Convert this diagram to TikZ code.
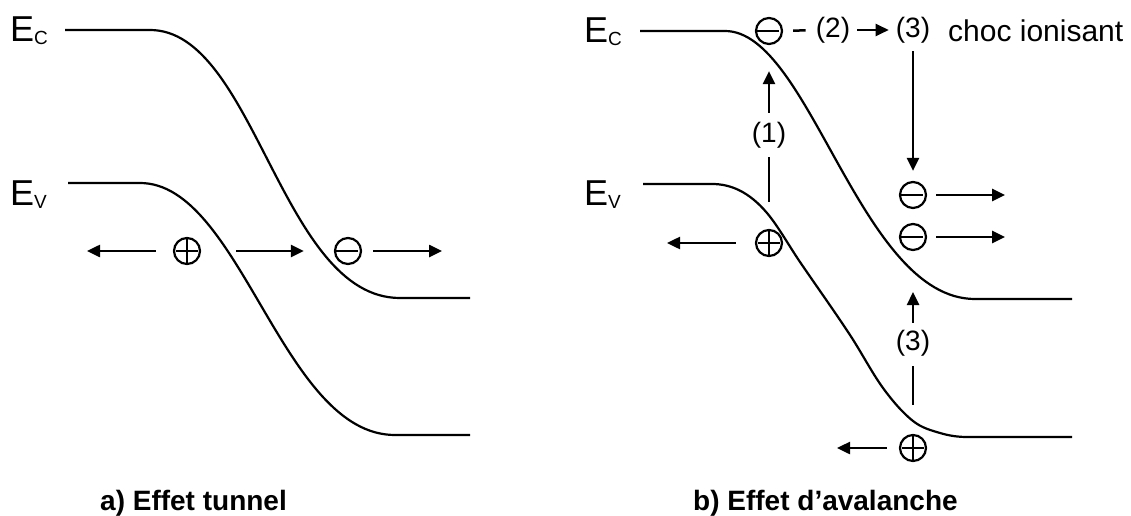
\documentclass[tikz,border=0pt]{standalone}
\usepackage{fontspec}
\setmainfont{Liberation Sans}
\usetikzlibrary{arrows.meta}
\tikzset{
  band/.style={line width=2.2pt, line join=round},
  seg/.style={line width=2.5pt},
  arr/.style={line width=2.5pt, -{Triangle[length=13pt,width=12pt]}},
  carrier/.style={circle, draw, line width=2.2pt, minimum size=26pt, inner sep=0pt},
  pluscar/.style={carrier, path picture={\draw[line width=1.8pt]
      (path picture bounding box.north) -- (path picture bounding box.south)
      ([xshift=-11pt]path picture bounding box.center) -- ([xshift=11pt]path picture bounding box.center);}},
  minuscar/.style={carrier, path picture={\draw[line width=2pt]
      ([xshift=-13pt]path picture bounding box.center) -- ([xshift=10pt]path picture bounding box.center);}},
  lab/.style={inner sep=0pt, font=\fontsize{28}{28}\selectfont},
  elab/.style={inner sep=0pt, anchor=base west, font=\fontsize{36}{36}\selectfont},
  captxt/.style={inner sep=0pt, anchor=base west, font=\fontsize{28}{28}\selectfont\bfseries},
}
\newcommand{\subC}[1]{{\fontsize{19}{19}\selectfont\raisebox{-3pt}{#1}}}
\begin{document}
\begin{tikzpicture}[x=1pt,y=-1pt]
\useasboundingbox (0,0) rectangle (1131,516);

% ---------- a) Effet tunnel ----------
\node[elab] (ecA) at (10,42) {E\subC{C}};
\node[elab] (evA) at (10,205) {E\subC{V}};
\draw[band] (65,30) -- (150,30) .. controls (255,30) and (281,298) .. (400,298) -- (470,298);
\draw[band] (68,183) -- (140,183) .. controls (241,183) and (282,435) .. (395,435) -- (470,435);

\node[pluscar] (pA) at (187,251) {};
\node[minuscar] (nA) at (348,251) {};
\coordinate (tA1) at (87,251);
\coordinate (tA2) at (442,251);
\draw[arr, shorten <=17pt] (pA.west) -- (tA1);
\draw[arr, shorten <=35pt, shorten >=30pt] (pA.east) -- (nA.west);
\draw[arr, shorten <=11pt] (nA.east) -- (tA2);

\node[captxt] (capA) at (100,510) {a) Effet tunnel};

% ---------- b) Effet d'avalanche ----------
\node[elab] (ecB) at (584,43) {E\subC{C}};
\node[elab] (evB) at (584,205) {E\subC{V}};
\draw[band] (640,31) -- (725,31) .. controls (810,31) and (860,299) .. (975,299) -- (1072,299);
\draw[band] (643,184) -- (712,184)
  .. controls (730.3,184) and (748.7,191.4) .. (767,213)
  .. controls (778,226) and (789,245.8) .. (800,262)
  .. controls (816.7,286.5) and (833.3,309.6) .. (850,335)
  .. controls (861,351.7) and (872,372.9) .. (883,388)
  .. controls (893,401.7) and (903,413.1) .. (913,421)
  .. controls (922,428.1) and (931,430.3) .. (940,433)
  .. controls (949,435.7) and (958,437) .. (967,437) -- (1072,437);

\node[minuscar] (nT) at (769,31) {};
\node[lab] (l2) at (833,30) {(2)};
\node[lab] (l3) at (913,30) {(3)};
\node[inner sep=0pt, anchor=base west, font=\fontsize{30}{30}\selectfont] (choc) at (948,42) {choc ionisant};
\draw[seg, shorten <=10pt, shorten >=10pt] (nT.east) -- (l2.west);
\draw[arr, shorten <=7pt, shorten >=7pt] (l2.east) -- (l3.west);

\node[minuscar] (n1) at (913,195) {};
\node[minuscar] (n2) at (913,237) {};
\draw[arr, shorten <=8pt, shorten >=10pt] (l3.south) -- (n1.north);
\coordinate (tB1) at (1005,195);
\coordinate (tB2) at (1005,237);
\draw[arr, shorten <=9pt] (n1.east) -- (tB1);
\draw[arr, shorten <=9pt] (n2.east) -- (tB2);

\node[pluscar] (pR) at (769,243) {};
\node[lab] (l1) at (769,135) {(1)};
\draw[seg, shorten <=27pt, shorten >=9pt] (pR.north) -- (l1.south);
\draw[arr, shorten <=9pt, shorten >=26pt] (l1.north) -- (nT.south);
\coordinate (tB3) at (667,243);
\draw[arr, shorten <=19pt] (pR.west) -- (tB3);

\node[pluscar] (pB) at (913,448) {};
\node[lab] (l3b) at (913,343) {(3)};
\coordinate (tB4) at (837,448);
\coordinate (tB5) at (913,292);
\draw[arr, shorten <=12pt] (pB.west) -- (tB4);
\draw[seg, shorten <=29pt, shorten >=10pt] (pB.north) -- (l3b.south);
\draw[arr, shorten <=7pt] (l3b.north) -- (tB5);

\node[captxt] (capB) at (693,510) {b) Effet d’avalanche};
\end{tikzpicture}
\end{document}
